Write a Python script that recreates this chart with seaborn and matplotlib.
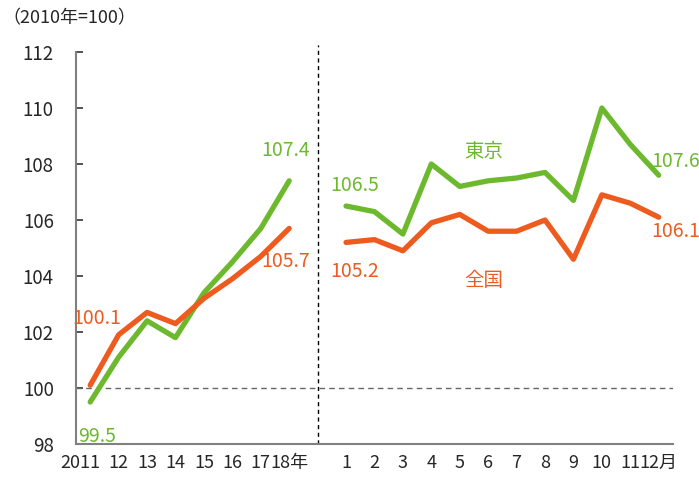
import pandas as pd
import seaborn as sns
import matplotlib.pyplot as plt
import matplotlib.transforms as mtransforms

# annual values (2011-2018) and monthly values of 2018, 2010 = 100
years = ['2011', '12', '13', '14', '15', '16', '17', '18年']
tokyo_year = [99.5, 101.1, 102.4, 101.8, 103.4, 104.5, 105.7, 107.4]
zenkoku_year = [100.1, 101.9, 102.7, 102.3, 103.2, 103.9, 104.7, 105.7]

months = ['1', '2', '3', '4', '5', '6', '7', '8', '9', '10', '11', '12月']
tokyo_month = [106.5, 106.3, 105.5, 108.0, 107.2, 107.4, 107.5, 107.7, 106.7, 110.0, 108.7, 107.6]
zenkoku_month = [105.2, 105.3, 104.9, 105.9, 106.2, 105.6, 105.6, 106.0, 104.6, 106.9, 106.6, 106.1]

series_names = ['東京', '全国']
green = '#6cb92e'
orange = '#ed5b1e'

# one empty slot between the annual part and the monthly part
labels = years + [''] + months
gap = len(years)

rows = []
for name, yv, mv in [('東京', tokyo_year, tokyo_month), ('全国', zenkoku_year, zenkoku_month)]:
    for i, v in enumerate(yv):
        rows.append({'pos': i, 'value': v, 'series': name, 'seg': 'year'})
    for i, v in enumerate(mv):
        rows.append({'pos': gap + 1 + i, 'value': v, 'series': name, 'seg': 'month'})
df = pd.DataFrame(rows)

sns.set_style('white')
plt.rcParams['font.family'] = ['Noto Sans CJK JP', 'DejaVu Sans']

fig = plt.figure(figsize=(6.99, 4.79), dpi=100)
ax = fig.add_axes([0.1087, 0.073, 0.854, 0.8184])

sns.lineplot(data=df, x='pos', y='value', hue='series', units='seg', estimator=None,
             palette={'東京': green, '全国': orange}, hue_order=series_names,
             linewidth=3.8, legend=False, ax=ax, solid_capstyle='round')

ax.set_xlim(-0.5, len(labels) - 0.5)
ax.set_ylim(98, 112)
ax.set_yticks(range(98, 113, 2))
ax.set_xticks(range(len(labels)))
ax.set_xticklabels(labels)
ax.set_xticks([i - 0.5 for i in range(len(labels) + 1)], minor=True)
ax.set_xlabel('')
ax.set_ylabel('')

ax.tick_params(axis='x', which='major', length=0, pad=7, labelsize=13)
ax.tick_params(axis='x', which='minor', direction='in', length=5, width=1, color='#333333')
ax.tick_params(axis='y', direction='in', length=5, width=1.2, color='#333333', pad=16, labelsize=13.5,
               left=True)
# the first year label sits a little to the left in the original
first = ax.get_xticklabels()[0]
first.set_transform(first.get_transform()
                    + mtransforms.ScaledTranslation(-10 / 100, 0, fig.dpi_scale_trans))

for s in ['top', 'right']:
    ax.spines[s].set_visible(False)
for s in ['left', 'bottom']:
    ax.spines[s].set_color('#808080')
    ax.spines[s].set_linewidth(1.5)

ax.axhline(100, color='#666666', linestyle=(0, (4, 3)), linewidth=1, zorder=1)
ax.plot([gap, gap], [98, 112.25], color='black', linestyle=(0, (3, 2.5)), linewidth=1,
        clip_on=False, zorder=1)

fs = 14
ax.text(6.86, 108.5, f'{tokyo_year[-1]:.1f}', color=green, fontsize=fs, ha='center', va='center')
ax.text(6.86, 104.51, f'{zenkoku_year[-1]:.1f}', color=orange, fontsize=fs, ha='center', va='center')
ax.text(0.23, 102.49, f'{zenkoku_year[0]:.1f}', color=orange, fontsize=fs, ha='center', va='center')
ax.text(0.23, 98.26, f'{tokyo_year[0]:.1f}', color=green, fontsize=fs, ha='center', va='center')
ax.text(9.30, 107.25, f'{tokyo_month[0]:.1f}', color=green, fontsize=fs, ha='center', va='center')
ax.text(9.30, 104.15, f'{zenkoku_month[0]:.1f}', color=orange, fontsize=fs, ha='center', va='center')
ax.text(20.58, 108.08, f'{tokyo_month[-1]:.1f}', color=green, fontsize=fs, ha='center', va='center')
ax.text(20.58, 105.58, f'{zenkoku_month[-1]:.1f}', color=orange, fontsize=fs, ha='center', va='center')
ax.text(13.83, 108.44, series_names[0], color=green, fontsize=fs, ha='center', va='center')
ax.text(13.83, 103.83, series_names[1], color=orange, fontsize=fs, ha='center', va='center')

fig.text(0.003, 0.962, '（2010年=100）', fontsize=13, ha='left', va='center')

fig.savefig('out.png', dpi=100)
